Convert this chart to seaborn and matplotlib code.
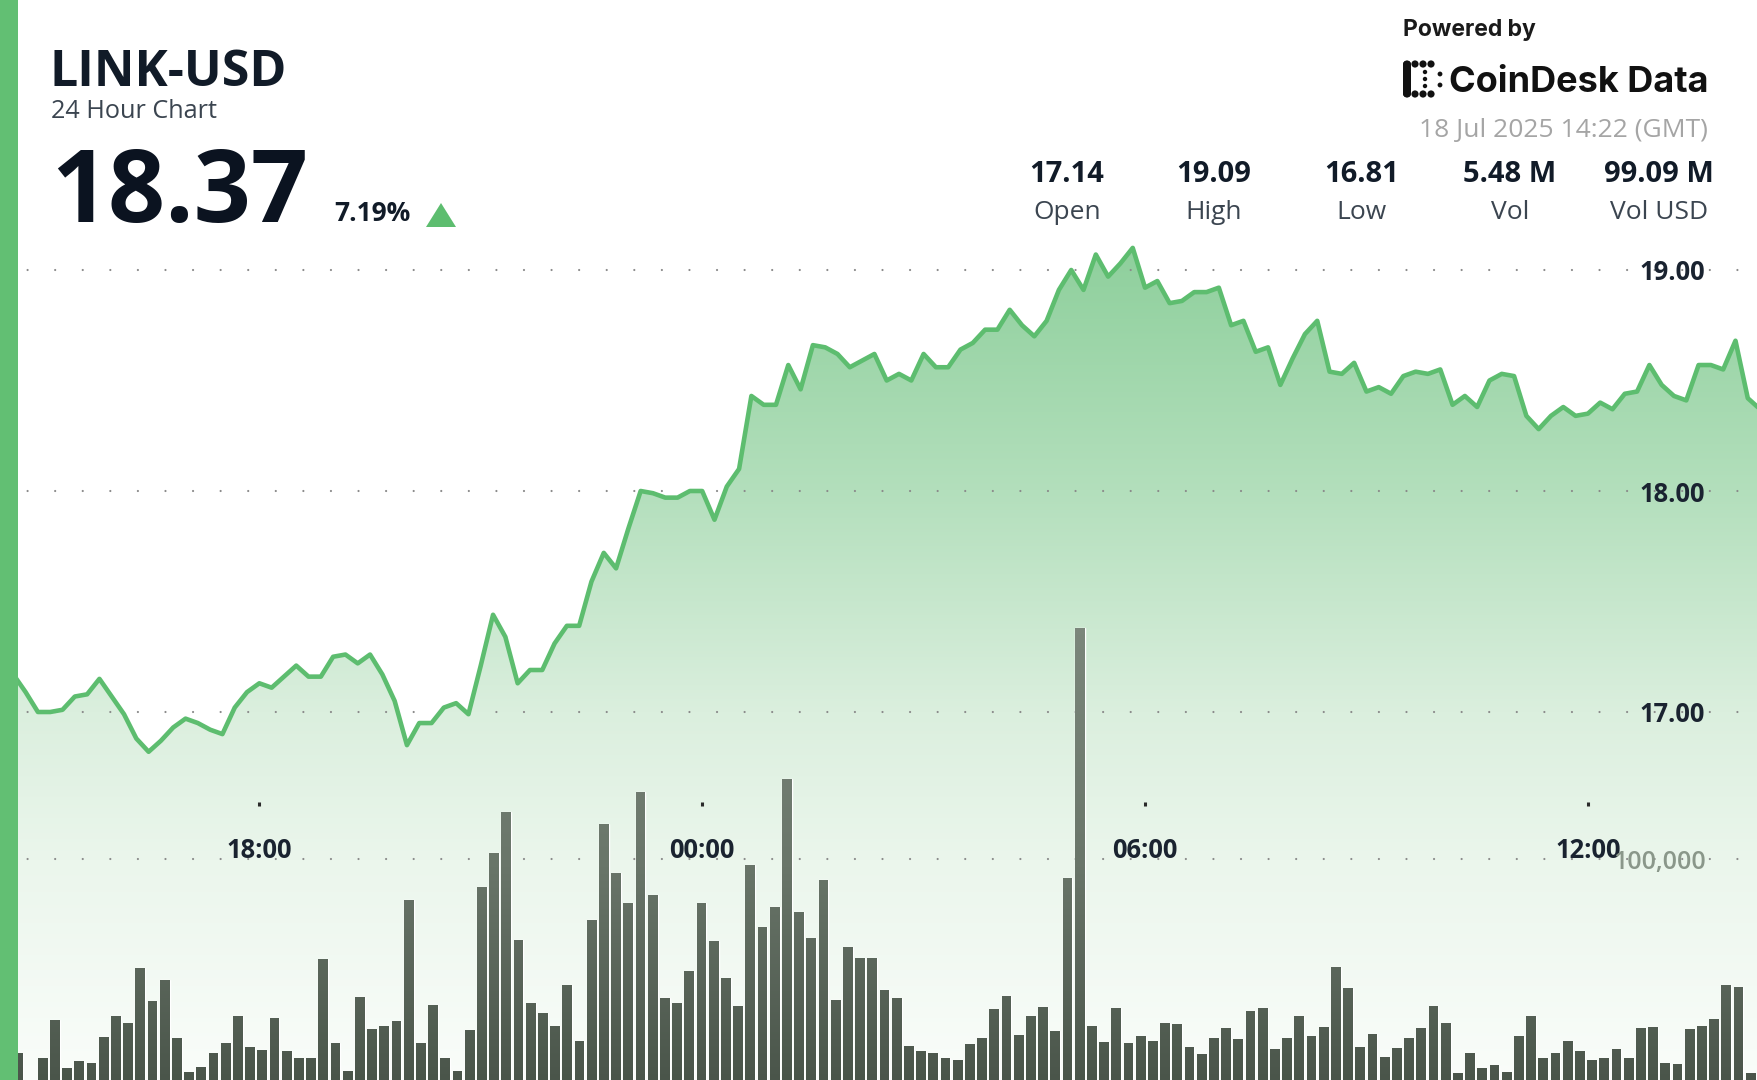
import numpy as np
import pandas as pd
import matplotlib
matplotlib.use('Agg')
import matplotlib.pyplot as plt
import matplotlib.dates as mdates
import seaborn as sns
from matplotlib.colors import to_rgb
from matplotlib.patches import Rectangle, Polygon, Circle, FancyBboxPatch
from matplotlib.path import Path
from matplotlib.ticker import FormatStrFormatter, StrMethodFormatter

W, H = 1758, 1080

# ── Data (10-minute steps) ───────────────────────────────────────────
price = [17.14, 17.17, 17.09, 17.00, 17.00, 17.01, 17.07, 17.08, 17.15, 17.07,
         16.99, 16.88, 16.82, 16.87, 16.93, 16.97, 16.95, 16.92, 16.90, 17.02,
         17.09, 17.13, 17.11, 17.16, 17.21, 17.16, 17.16, 17.25, 17.26, 17.22,
         17.26, 17.17, 17.05, 16.85, 16.95, 16.95, 17.02, 17.04, 16.99, 17.21,
         17.44, 17.34, 17.13, 17.19, 17.19, 17.31, 17.39, 17.39, 17.59, 17.72,
         17.65, 17.83, 18.00, 17.99, 17.97, 17.97, 18.00, 18.00, 17.87, 18.02,
         18.10, 18.43, 18.39, 18.39, 18.57, 18.46, 18.66, 18.65, 18.62, 18.56,
         18.59, 18.62, 18.50, 18.53, 18.50, 18.62, 18.56, 18.56, 18.64, 18.67,
         18.73, 18.73, 18.82, 18.75, 18.70, 18.77, 18.91, 19.00, 18.91, 19.07,
         18.97, 19.03, 19.10, 18.92, 18.95, 18.85, 18.86, 18.90, 18.90, 18.92,
         18.75, 18.77, 18.63, 18.65, 18.48, 18.60, 18.71, 18.77, 18.54, 18.53,
         18.58, 18.45, 18.47, 18.44, 18.52, 18.54, 18.53, 18.55, 18.39, 18.43,
         18.38, 18.50, 18.53, 18.52, 18.34, 18.28, 18.34, 18.38, 18.34, 18.35,
         18.40, 18.37, 18.44, 18.45, 18.57, 18.48, 18.43, 18.41, 18.57, 18.57,
         18.55, 18.68, 18.42, 18.37]

volume_k = [10.0, 12.1, 0.0, 9.8, 27.1, 5.3, 8.7, 7.5, 19.3, 29.0,
            25.6, 50.5, 35.9, 45.3, 19.2, 3.8, 6.0, 12.4, 16.9, 29.0,
            15.1, 13.6, 27.9, 13.3, 9.8, 9.8, 54.6, 16.9, 4.2, 37.4,
            23.1, 24.6, 26.8, 81.5, 16.9, 33.9, 9.8, 4.2, 22.6, 87.2,
            102.9, 121.1, 63.4, 35.0, 30.5, 24.6, 43.0, 17.6, 72.4, 116.0,
            93.5, 80.2, 130.5, 83.7, 37.3, 34.7, 49.5, 80.2, 63.1, 46.3,
            33.6, 97.3, 69.1, 78.1, 136.1, 75.9, 64.1, 90.5, 36.2, 60.0,
            55.1, 55.1, 40.7, 37.0, 15.5, 13.3, 12.1, 9.8, 9.0, 16.1,
            18.9, 32.1, 38.2, 20.4, 29.1, 33.2, 22.2, 91.6, 204.5, 24.6,
            17.0, 32.4, 16.9, 19.9, 17.8, 25.9, 25.2, 14.8, 11.6, 19.2,
            23.7, 18.4, 31.4, 32.4, 13.9, 19.2, 29.1, 19.9, 23.8, 51.3,
            41.8, 14.8, 20.7, 10.3, 14.3, 19.2, 23.4, 33.6, 25.7, 3.0,
            12.4, 5.3, 6.8, 3.8, 19.9, 29.1, 10.1, 12.4, 17.6, 13.3,
            9.0, 10.1, 14.0, 10.1, 23.4, 23.8, 7.8, 7.1, 22.9, 24.6,
            27.6, 43.0, 41.9, 3.0]

time_ticks = ['2025-07-17 18:00', '2025-07-18 00:00', '2025-07-18 06:00', '2025-07-18 12:00']
time_labels = ['18:00', '00:00', '06:00', '12:00']
price_ticks = [17, 18, 19]
volume_ticks = [100000]

stat_values = ['17.14', '19.09', '16.81', '5.48 M', '99.09 M']
stat_names = ['Open', 'High', 'Low', 'Vol', 'Vol USD']

df = pd.DataFrame({
    'time': pd.date_range('2025-07-17 14:30', periods=len(price), freq='10min'),
    'price': price,
    'volume': np.array(volume_k) * 1000,
})
df['slot'] = np.arange(len(df))

# ── Style ─────────────────────────────────────────────
sns.set_theme(style='white')
plt.rcParams['font.family'] = ['Open Sans', 'DejaVu Sans']
plt.rcParams['lines.dash_capstyle'] = 'round'

GREEN = '#5dbd6f'
INK = '#111b28'
GREY_TXT = '#3b4550'
DOTS = dict(linestyle=(0, (0.01, 12.4)), linewidth=1.6, color='#8a8a8a')


def vertical_gradient(stops, n=H):
    rows = np.arange(n)
    ys = [s[0] for s in stops]
    cols = np.array([to_rgb(s[1]) for s in stops])
    img = np.stack([np.interp(rows, ys, cols[:, c]) for c in range(3)], axis=-1)
    return img[:, None, :]


fig = plt.figure(figsize=(W / 100, H / 100), dpi=100)
fig.patch.set_facecolor('white')

# ── Price panel ───────────────────────────────────────
ax = fig.add_axes([0, 0, 1, 1])
ax.set_facecolor('white')
sns.lineplot(data=df, x='time', y='price', ax=ax, color=GREEN, linewidth=3.3, zorder=4)

x_lo = pd.Timestamp('2025-07-17 14:29:11')
x_hi = pd.Timestamp('2025-07-18 14:18:18')
y_lo, y_hi = 19 - 810 / 221, 19 + 270 / 221

fill = ax.fill_between(df['time'], df['price'], y_lo, facecolor='none', edgecolor='none')
grad = ax.imshow(vertical_gradient([(0, '#7fca90'), (240, '#8dcf9b'), (490, '#b3dfbc'),
                                    (712, '#dbefde'), (860, '#ebf6ec'), (1080, '#fafdfa')]),
                 extent=(mdates.date2num(x_lo), mdates.date2num(x_hi), y_lo, y_hi),
                 origin='upper', aspect='auto', zorder=0)
grad.set_clip_path(fill.get_paths()[0], ax.transData)

ax.set_xlim(x_lo, x_hi)
ax.set_ylim(y_lo, y_hi)
ax.set_xlabel('')
ax.set_ylabel('')
for s in ax.spines.values():
    s.set_visible(False)

ax.set_yticks(price_ticks)
ax.yaxis.set_major_formatter(FormatStrFormatter('%.2f'))
ax.yaxis.tick_right()
ax.tick_params(axis='y', length=0, pad=-85, labelsize=18.4, labelcolor='#1a2330')
for lbl in ax.get_yticklabels():
    lbl.set_fontweight('bold')
ax.grid(axis='y', **DOTS)
ax.grid(axis='x', visible=False)

ax.spines['bottom'].set_position(('axes', 1 - 804 / H))
ax.set_xticks(pd.to_datetime(time_ticks))
ax.set_xticklabels(time_labels, fontweight='bold')
ax.tick_params(axis='x', direction='inout', length=2.2, width=2.2, color='#2a2a2a',
               pad=22.5, labelsize=18.4, labelcolor='#1a2330', bottom=True)

# ── Volume panel ──────────────────────────────────────
axv = fig.add_axes([0, 0, 1, 1])
axv.patch.set_alpha(0)
sns.barplot(data=df, x='slot', y='volume', ax=axv, width=0.79, color='#5d695d',
            saturation=1, errorbar=None)
axv.set_xlim(-0.5, -0.5 + W / 12.2)
v_top = 100000 * H / 221
axv.set_ylim(0, v_top)

bar_paths = [p.get_path().transformed(p.get_patch_transform()) for p in axv.patches]
bar_shape = Path.make_compound_path(*bar_paths)
bars_img = axv.imshow(vertical_gradient([(0, '#8a958a'), (620, '#7c877c'),
                                         (860, '#6a766a'), (1080, '#4a554a')]),
                      extent=(-0.5, -0.5 + W / 12.2, 0, v_top),
                      origin='upper', aspect='auto', zorder=3)
bars_img.set_clip_path(bar_shape, axv.transData)
axv.set_xlim(-0.5, -0.5 + W / 12.2)
axv.set_ylim(0, v_top)

axv.set_xticks([])
axv.set_xlabel('')
axv.set_ylabel('')
axv.set_yticks(volume_ticks)
axv.yaxis.set_major_formatter(StrMethodFormatter('{x:,.0f}'))
axv.yaxis.tick_right()
axv.tick_params(axis='y', length=0, pad=-104, labelsize=18, labelcolor='#8a978a')
for lbl in axv.get_yticklabels():
    lbl.set_fontweight('semibold')
axv.grid(axis='y', **DOTS)
axv.set_axisbelow(True)
for s in axv.spines.values():
    s.set_visible(False)

# ── Header / decorations (pixel coordinates) ─────────
deco = fig.add_axes([0, 0, 1, 1], zorder=10)
deco.set_xlim(0, W)
deco.set_ylim(H, 0)
deco.axis('off')
deco.patch.set_alpha(0)

deco.add_patch(Rectangle((0, 0), 18, H, color='#62bf73', lw=0))

deco.text(50, 86, 'LINK-USD', fontsize=36, fontweight='bold', color=INK, va='baseline')
deco.text(51, 118, '24 Hour Chart', fontsize=18.2, color=GREY_TXT, va='baseline')
deco.text(51, 222, '18.37', fontsize=72, fontweight='bold', color='#0b1320', va='baseline')
deco.text(334, 221, '7.19%', fontsize=19, fontweight='bold', color=INK, va='baseline')
deco.add_patch(Polygon([(426, 227), (456, 227), (441, 203)], closed=True, color=GREEN, lw=0))

deco.text(1403, 36, 'Powered by', fontsize=16.5, fontweight='bold', family='Inter',
          color='#1a1a1a', va='baseline')
deco.text(1449, 92, 'CoinDesk Data', fontsize=26, fontweight='bold', family='Inter',
          color='#111111', va='baseline')
# logo mark
deco.add_patch(FancyBboxPatch((1403, 61), 8, 36, boxstyle='round,pad=0,rounding_size=3',
                              color='#111111', lw=0))
for cx in [1407, 1415, 1423, 1431]:
    deco.add_patch(Circle((cx, 64), 3.6, color='#111111', lw=0))
    deco.add_patch(Circle((cx, 94), 3.6, color='#111111', lw=0))
for cy in [72, 79, 86]:
    deco.add_patch(Circle((1425, cy), 2.2, color='#111111', lw=0))
for cy in [74, 85]:
    deco.add_patch(Circle((1440, cy), 2.4, color='#111111', lw=0))

deco.text(1708, 137, '18 Jul 2025 14:22 (GMT)', fontsize=19, color='#a5a5a5',
          ha='right', va='baseline')

for cx, val, name in zip([1067, 1214, 1362, 1510, 1659], stat_values, stat_names):
    deco.text(cx, 182, val, fontsize=21, fontweight='bold', color=INK, ha='center', va='baseline')
    deco.text(cx, 219, name, fontsize=19, color=GREY_TXT, ha='center', va='baseline')

fig.savefig('out.png', dpi=100, facecolor='white')
